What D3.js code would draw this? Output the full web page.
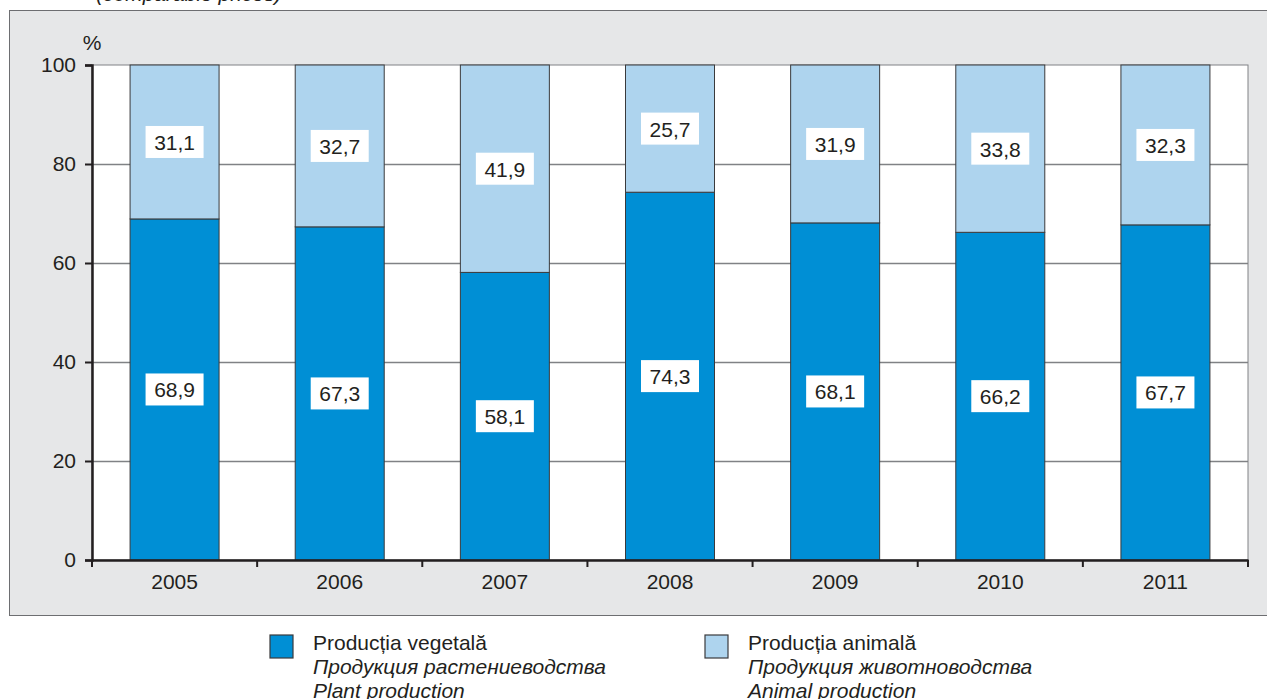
<!DOCTYPE html>
<html>
<head>
<meta charset="utf-8">
<script src="https://cdn.jsdelivr.net/npm/d3@7"></script>
<style>
  body { margin: 0; background: #fff; }
  svg { display: block; font-family: 'Liberation Sans', Arial, sans-serif; }
</style>
</head>
<body>
<div id="chart"></div>
<script>
const years = ['2005', '2006', '2007', '2008', '2009', '2010', '2011']
const plant = [68.9, 67.3, 58.1, 74.3, 68.1, 66.2, 67.7]
const animal = [31.1, 32.7, 41.9, 25.7, 31.9, 33.8, 32.3]
const yTicks = [0, 20, 40, 60, 80, 100]

const W = 1267
const H = 699
const margin = { top: 65, left: 92, right: 19, bottom: 139 }
const width = W - margin.left - margin.right
const height = H - margin.top - margin.bottom
const fs = 21

const svg = d3
  .select('#chart')
  .append('svg')
  .attr('width', W)
  .attr('height', H)

// cut off subtitle at the very top
svg
  .append('text')
  .attr('x', 96)
  .attr('y', 1)
  .attr('font-size', 21)
  .attr('font-style', 'italic')
  .attr('fill', '#231f20')
  .text('(comparable prices)')

// grey panel
svg
  .append('rect')
  .attr('x', 9.5)
  .attr('y', 10.5)
  .attr('width', W + 20)
  .attr('height', 605)
  .attr('fill', '#e6e7e8')
  .attr('stroke', '#6d6e71')
  .attr('stroke-width', 1)

const g = svg
  .append('g')
  .attr('transform', 'translate(' + margin.left + ',' + margin.top + ')')

const x = d3.scaleBand().domain(years).range([0, width]).padding(0)
const y = d3.scaleLinear().domain([0, 100]).range([height, 0])

g.append('rect')
  .attr('width', width)
  .attr('height', height)
  .attr('fill', '#fff')
  .attr('stroke', '#808285')

// gridlines
g.selectAll('.grid')
  .data(yTicks.filter(d => d > 0 && d < 100))
  .enter()
  .append('line')
  .attr('x1', 0)
  .attr('x2', width)
  .attr('y1', d => Math.round(y(d)) + 0.5)
  .attr('y2', d => Math.round(y(d)) + 0.5)
  .attr('stroke', '#808285')
  .attr('stroke-width', 1.5)

const data = years.map((yr, i) => ({ year: yr, plant: plant[i], animal: animal[i] }))
const stack = d3.stack().keys(['plant', 'animal'])(data)
const colors = { plant: '#008fd5', animal: '#aed4ee' }

const barW = 89
const barX = d => x(d.data.year) + (x.bandwidth() - barW) / 2

stack.forEach(layer => {
  g.selectAll('.bar-' + layer.key)
    .data(layer)
    .enter()
    .append('rect')
    .attr('x', barX)
    .attr('y', d => y(d[1]))
    .attr('width', barW)
    .attr('height', d => y(d[0]) - y(d[1]))
    .attr('fill', colors[layer.key])
    .attr('stroke', '#3a3a3c')
    .attr('stroke-width', 1)
})

// value labels in white boxes
const fmt = v => v.toFixed(1).replace('.', ',')
stack.forEach(layer => {
  const lab = g
    .selectAll('.lab-' + layer.key)
    .data(layer)
    .enter()
    .append('g')
    .attr('transform', d => 'translate(' + (x(d.data.year) + x.bandwidth() / 2) + ',' + y((d[0] + d[1]) / 2) + ')')
  lab
    .append('rect')
    .attr('x', -29)
    .attr('y', -16)
    .attr('width', 58)
    .attr('height', 32)
    .attr('fill', '#fff')
  lab
    .append('text')
    .attr('text-anchor', 'middle')
    .attr('dy', 8)
    .attr('font-size', fs)
    .attr('fill', '#231f20')
    .text(d => fmt(d.data[layer.key]))
})

// y axis
const yAxis = g.append('g').call(
  d3.axisLeft(y).tickValues(yTicks).tickSize(7).tickPadding(9).tickFormat(d3.format('d'))
)
yAxis.select('.domain').attr('stroke', '#231f20').attr('stroke-width', 2.5)
yAxis.selectAll('.tick line').attr('stroke', '#231f20').attr('stroke-width', 2)
yAxis.selectAll('.tick text').attr('font-size', fs).attr('fill', '#231f20').attr('font-family', null)

g.append('text')
  .attr('x', 0)
  .attr('y', -15)
  .attr('text-anchor', 'middle')
  .attr('font-size', fs)
  .attr('fill', '#231f20')
  .text('%')

// x axis
const xAxis = g
  .append('g')
  .attr('transform', 'translate(0,' + height + ')')
  .call(d3.axisBottom(x).tickSize(0).tickPadding(14))
xAxis.select('.domain').attr('stroke', '#231f20').attr('stroke-width', 2.5)
xAxis.selectAll('.tick text').attr('font-size', fs).attr('fill', '#231f20').attr('font-family', null)

// boundary ticks on x axis
g.selectAll('.xb')
  .data(years.map(d => x(d)).concat([width]))
  .enter()
  .append('line')
  .attr('x1', d => d)
  .attr('x2', d => d)
  .attr('y1', height)
  .attr('y2', height + 7)
  .attr('stroke', '#231f20')
  .attr('stroke-width', 2)

// legend
const legend = [
  { key: 'plant', x: 270, lines: ['Producția vegetală', 'Продукция растениеводства', 'Plant production'] },
  { key: 'animal', x: 705, lines: ['Producția animală', 'Продукция животноводства', 'Animal production'] }
]
const lg = svg
  .selectAll('.legend')
  .data(legend)
  .enter()
  .append('g')
  .attr('transform', d => 'translate(' + d.x + ',635)')
lg.append('rect')
  .attr('width', 23)
  .attr('height', 23)
  .attr('fill', d => colors[d.key])
  .attr('stroke', '#3a3a3c')
  .attr('stroke-width', 1.2)
lg.each(function(d) {
  d3.select(this)
    .selectAll('text')
    .data(d.lines)
    .enter()
    .append('text')
    .attr('x', 43)
    .attr('y', (t, i) => 15 + i * 24)
    .attr('font-size', fs)
    .attr('font-style', (t, i) => (i > 0 ? 'italic' : 'normal'))
    .attr('fill', '#231f20')
    .text(t => t)
})
</script>
</body>
</html>
